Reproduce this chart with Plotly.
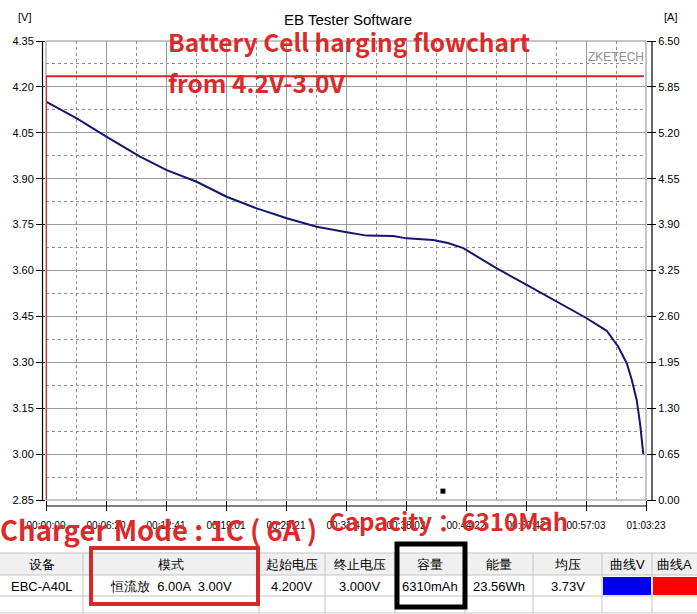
import plotly.graph_objects as go

# ---------------- data ----------------
time_s = [0, 195, 385, 596, 765, 955, 1145, 1336, 1526, 1716, 1906, 2033,
          2201, 2286, 2453, 2548, 2645, 2751, 2857, 3047, 3237, 3427, 3554,
          3627, 3681, 3713, 3744, 3765, 3786]
voltage_v = [4.152, 4.097, 4.037, 3.972, 3.928, 3.890, 3.841, 3.803, 3.771,
             3.743, 3.725, 3.714, 3.713, 3.705, 3.700, 3.690, 3.673, 3.640,
             3.607, 3.553, 3.498, 3.444, 3.403, 3.351, 3.297, 3.242, 3.177,
             3.101, 3.000]
current_t = [0, 0, 3790]
current_a = [0.0, 6.0, 6.0]
marker_t = [2516]
marker_v = [2.879]

x_tick_vals = [0, 380.3, 760.6, 1140.9, 1521.2, 1901.5, 2281.8, 2662.1, 3042.4, 3422.7, 3803]
x_tick_text = ["00:00:00", "00:06:20", "00:12:41", "00:19:01", "00:25:21", "00:31:41",
               "00:38:02", "00:44:22", "00:50:42", "00:57:03", "01:03:23"]

table_headers = ["设备", "模式", "起始电压", "终止电压", "容量", "能量", "均压", "曲线V", "曲线A"]
table_values = ["EBC-A40L", "恒流放  6.00A  3.00V", "4.200V", "3.000V", "6310mAh",
                "23.56Wh", "3.73V", "", ""]

# ---------------- layout helpers ----------------
W, H = 697, 614
L, R, T, B = 46, 646, 41, 500


def px(x):
    return (x - L) / (R - L)


def py(y):
    return (B - y) / (B - T)


RED = "#dc2a2a"
FONT = "Liberation Sans, Arial, sans-serif"
BOLD = "Noto Sans CJK SC, Lato, sans-serif"
DASH = "3px,3px"

fig = go.Figure()
fig.add_trace(go.Scatter(x=current_t, y=current_a, mode="lines", yaxis="y2",
                         line=dict(color="#dc2424", width=2), hoverinfo="skip"))
fig.add_trace(go.Scatter(x=time_s, y=voltage_v, mode="lines",
                         line=dict(color="#16166e", width=2), hoverinfo="skip"))
fig.add_trace(go.Scatter(x=marker_t, y=marker_v, mode="markers",
                         marker=dict(symbol="square", size=5, color="black"),
                         hoverinfo="skip"))

shapes = []
shapes.append(dict(type="rect", xref="paper", yref="paper", x0=0, x1=1, y0=0, y1=1,
                   line=dict(color="#8c8c8c", width=1), layer="below"))
shapes.append(dict(type="line", xref="paper", yref="paper", x0=px(42.5), x1=px(42.5),
                   y0=py(T), y1=py(B), line=dict(color="black", width=1.2)))
shapes.append(dict(type="line", xref="paper", yref="paper", x0=px(652), x1=px(652),
                   y0=py(T), y1=py(B), line=dict(color="black", width=1.2)))
shapes.append(dict(type="line", xref="paper", yref="paper", x0=px(46), x1=px(646),
                   y0=py(506), y1=py(506), line=dict(color="black", width=1.2)))

# table
cols = [0, 83, 259, 325, 395, 465, 533, 602, 652, 697]
rows = [553, 575, 596, 613]
shapes.append(dict(type="rect", xref="paper", yref="paper", x0=px(0), x1=px(697),
                   y0=py(rows[0]), y1=py(rows[1]), fillcolor="#f0f0f0",
                   line=dict(width=0)))
for yy in rows:
    shapes.append(dict(type="line", xref="paper", yref="paper", x0=px(0), x1=px(697),
                       y0=py(yy), y1=py(yy), line=dict(color="#c4c4c4", width=1)))
for xx in cols[1:-1]:
    shapes.append(dict(type="line", xref="paper", yref="paper", x0=px(xx), x1=px(xx),
                       y0=py(rows[0]), y1=py(rows[-1]), line=dict(color="#c4c4c4", width=1)))
shapes.append(dict(type="rect", xref="paper", yref="paper", x0=px(603), x1=px(651),
                   y0=py(577), y1=py(595), fillcolor="#0000f0", line=dict(width=0)))
shapes.append(dict(type="rect", xref="paper", yref="paper", x0=px(653), x1=px(697),
                   y0=py(577), y1=py(595), fillcolor="#ff0000", line=dict(width=0)))
shapes.append(dict(type="rect", xref="paper", yref="paper", x0=px(91), x1=px(258),
                   y0=py(548), y1=py(604), line=dict(color="#d42a2a", width=4)))
shapes.append(dict(type="rect", xref="paper", yref="paper", x0=px(397), x1=px(465),
                   y0=py(544), y1=py(607), line=dict(color="black", width=5)))

annotations = []


def ann(text, x, y, size, color="black", family=FONT, xanchor="center", **kw):
    annotations.append(dict(text=text, xref="paper", yref="paper", x=px(x), y=py(y),
                            xanchor=xanchor, yanchor="middle", showarrow=False,
                            font=dict(size=size, color=color, family=family), **kw))


ann("EB Tester Software", 348, 19, 15)
ann("[V]", 24, 17, 11)
ann("[A]", 670, 17, 11)
ann("ZKETECH", 616, 57, 12, color="#8e8e8e")

centers = [(cols[i] + cols[i + 1]) / 2 for i in range(len(cols) - 1)]
for c, h, v in zip(centers, table_headers, table_values):
    ann(h, c, 564, 13)
    if v:
        ann(v, c, 586, 13)

ann("<b>Battery Cell harging flowchart</b>", 166, 41, 24.5, color=RED, family=BOLD, xanchor="left")
ann("<b>from 4.2V-3.0V</b>", 166, 82, 24.5, color=RED, family=BOLD, xanchor="left")
ann("<b>Charger Mode : 1C ( 6A )</b>", -2, 529, 27.5, color=RED, family=BOLD, xanchor="left")
ann("<b>Capacity ：6310Mah</b>", 327, 520, 24, color=RED, family=BOLD, xanchor="left")

fig.update_layout(
    width=W, height=H, autosize=False,
    margin=dict(l=L, r=W - R, t=T, b=H - B, pad=0),
    paper_bgcolor="white", plot_bgcolor="white",
    showlegend=False,
    xaxis=dict(range=[0, 3803], tickmode="array", tickvals=x_tick_vals, ticktext=x_tick_text,
               showgrid=True, gridcolor="#9a9a9a", gridwidth=1, zeroline=False,
               ticks="outside", ticklen=10, tickcolor="black", tickwidth=1,
               tickfont=dict(size=10, color="black", family=FONT), ticklabelstandoff=6,
               minor=dict(tick0=0, dtick=190.15, showgrid=True, griddash=DASH,
                          gridcolor="#8c8c8c", gridwidth=1, ticks=""),
               showline=False, fixedrange=True),
    yaxis=dict(range=[2.85, 4.35], tick0=2.85, dtick=0.15, tickformat=".2f",
               showgrid=True, gridcolor="#9a9a9a", gridwidth=1, zeroline=False,
               ticks="outside", ticklen=9, tickcolor="black", tickwidth=1,
               tickfont=dict(size=11, color="black", family=FONT),
               minor=dict(tick0=2.85, dtick=0.075, showgrid=True, griddash=DASH,
                          gridcolor="#8c8c8c", gridwidth=1, ticks=""),
               showline=False, fixedrange=True),
    yaxis2=dict(range=[0, 6.5], tick0=0, dtick=0.65, tickformat=".2f", overlaying="y",
                side="right", showgrid=False, zeroline=False,
                ticks="outside", ticklen=9, tickcolor="black", tickwidth=1,
                tickfont=dict(size=11, color="black", family=FONT),
                showline=False, fixedrange=True),
    shapes=shapes,
    annotations=annotations,
)

fig.write_html("out.html", config={"displayModeBar": False},
               post_script="document.body.style.margin='0';document.body.style.overflow='hidden';")
